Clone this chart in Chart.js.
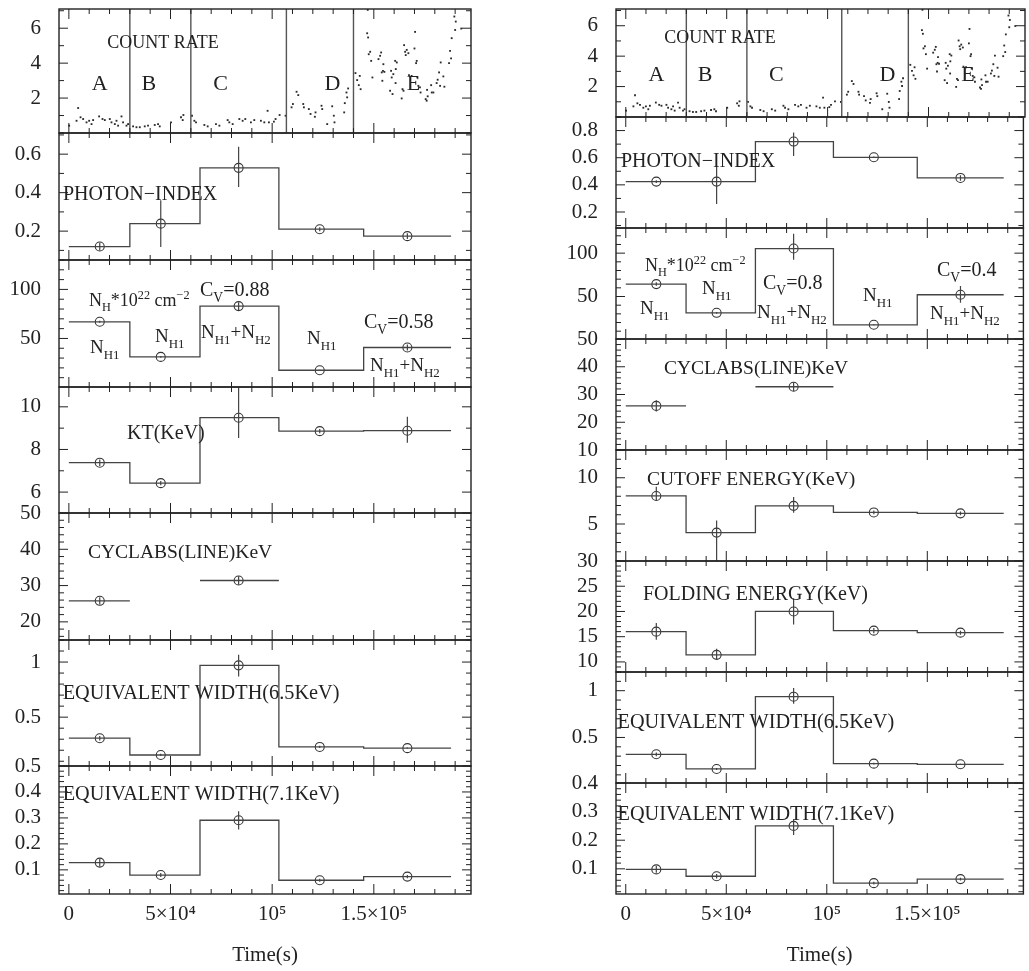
<!DOCTYPE html>
<html lang="en">
<head>
  <meta charset="UTF-8">
  <title>Count rate and spectral parameters</title>
  <script src="https://cdn.jsdelivr.net/npm/chart.js"></script>
  <style>
    body { margin: 0; background: #fff; overflow: hidden; }
    #wrap { position: relative; width: 1029px; height: 971px; }
    #wrap canvas { position: absolute; }
  </style>
</head>
<body>
  <div id="wrap"></div>

  <script>
    // time bins of the spectral fits (s)
    const binEdges = [0, 30000, 64500, 103300, 145000, 188000];
    const binTimes = [15200, 45200, 83500, 123400, 166500];

    // count-rate segments A..E
    const segmentEdges = [30000, 60000, 107000, 140000];
    const segmentNames = ["A", "B", "C", "D", "E"];
    const segmentNameTimes = [15200, 39300, 74600, 129700, 169500];

    const xTicks = [0, 50000, 100000, 150000];
    const xTickLabels = ["0", "5×10⁴", "10⁵", "1.5×10⁵"];

    // light curve
    const countTime = [150, 3780, 4570, 5750, 7030, 8690, 9980, 11150, 11940, 14890, 16550, 17680, 20140, 20970, 22600, 23430, 24220, 25890, 26670, 28340, 29130,
      31590, 33250, 34880, 37330, 38950, 42240, 43870, 44700, 50250, 55160, 56000, 56340,
      60570, 61730, 62550, 66650, 68280, 72360, 74030, 78100, 78920, 80560, 83850, 85480, 86780, 89550, 91200, 94460, 96130, 97750, 98400, 100850, 101680, 103650, 106590,
      109540, 110200, 112000, 112830, 115280, 115600, 118040, 118870, 121000, 121330, 124270, 124620, 127070, 129530, 130320, 130650, 135420, 135720, 136550, 136890, 137380,
      140970, 141800, 142600, 143080, 143500, 146720, 147000, 147200, 147500, 148200, 148700, 149300, 152300, 153100, 153600, 153900, 154200, 154500, 154700, 155200,
      158000, 158500, 158800, 159200, 159600, 160500, 160700, 160800, 161300, 163700, 164100, 164600, 164900, 165400, 165700, 166200, 167000, 167300, 168600,
      170000, 170300, 170800, 171100, 171400, 171900, 172700, 173000, 175500, 176000, 176200, 176500, 178200, 178500, 179300, 180900, 181400, 182100, 182600, 182900,
      184200, 184700, 187000, 187500, 188000, 188300, 189600, 190000, 190300, 193000];
    const countRate = [0.42, 0.70, 1.43, 0.90, 0.80, 0.61, 0.70, 0.51, 0.74, 0.95, 0.80, 0.74, 0.80, 0.61, 0.51, 0.70, 0.42, 0.95, 0.61, 0.42, 0.51,
      0.38, 0.33, 0.33, 0.38, 0.42, 0.46, 0.51, 0.38, 0.61, 0.90, 0.74, 1.03,
      0.99, 0.70, 0.61, 0.46, 0.38, 0.51, 0.42, 0.74, 0.61, 0.51, 0.80, 0.70, 0.80, 0.61, 0.74, 0.70, 0.61, 1.27, 0.61, 0.65, 0.80, 1.03, 0.99,
      1.47, 1.66, 2.36, 2.17, 1.66, 1.47, 1.37, 1.09, 0.93, 1.18, 1.56, 1.37, 0.51, 1.53, 0.99, 0.61, 1.18, 1.71, 2.32, 2.04, 2.55,
      3.43, 3.03, 2.74, 3.27, 2.51, 5.71, 7.05, 5.47, 4.51, 4.65, 4.13, 3.18, 4.23, 4.42, 4.61, 3.47, 2.99, 3.56, 3.94, 3.50,
      2.42, 3.56, 3.18, 2.23, 3.37, 4.13, 2.86, 3.66, 4.04, 1.98, 2.51, 2.42, 5.03, 4.65, 4.46, 4.76, 4.57, 3.31, 3.27,
      4.84, 5.79, 4.00, 4.13, 3.18, 2.70, 2.61, 2.32, 1.94, 1.85, 2.47, 2.10, 2.74, 2.32, 2.32, 2.86, 3.05, 3.47, 2.70, 4.04,
      3.24, 2.65, 4.00, 4.70, 4.27, 5.43, 6.67, 5.90, 6.38, 5.98];

    // left column fits
    const leftPhoton = [0.12, 0.239, 0.529, 0.21, 0.174];
    const leftPhotonLo = [0.02, 0.122, 0.099, 0.01, 0.015];
    const leftPhotonHi = [0.02, 0.121, 0.109, 0.01, 0.015];
    const leftNH = [67, 31.2, 83, 17.6, 40.8];
    const leftNHLo = [1, 1, 4, 0.5, 3];
    const leftNHHi = [1, 1, 4, 0.5, 3];
    const leftKT = [7.38, 6.42, 9.49, 8.86, 8.88];
    const leftKTLo = [0.15, 0.1, 0.95, 0.1, 0.56];
    const leftKTHi = [0.15, 0.1, 1.6, 0.1, 0.65];
    const leftCyc = [25.8, null, 31.4, null, null];
    const leftCycErr = [1.0, 0, 1.2, 0, 0];
    const leftEW65 = [0.309, 0.157, 0.97, 0.23, 0.219];
    const leftEW65Lo = [0.02, 0.01, 0.1, 0.01, 0.005];
    const leftEW65Hi = [0.02, 0.01, 0.096, 0.01, 0.005];
    const leftEW71 = [0.128, 0.08, 0.291, 0.06, 0.074];
    const leftEW71Lo = [0.015, 0.008, 0.036, 0.006, 0.006];
    const leftEW71Hi = [0.015, 0.008, 0.035, 0.006, 0.006];

    // right column fits
    const rightPhoton = [0.424, 0.424, 0.719, 0.603, 0.451];
    const rightPhotonLo = [0.01, 0.165, 0.107, 0.005, 0.02];
    const rightPhotonHi = [0.01, 0.116, 0.066, 0.005, 0.02];
    const rightNH = [64.3, 31.2, 105.3, 17.4, 52];
    const rightNHLo = [2, 1, 12.8, 0.5, 9.2];
    const rightNHHi = [2, 1, 17.2, 0.5, 10];
    const rightCyc = [25.9, null, 32.8, null, null];
    const rightCycErr = [2, 0, 1.5, 0, 0];
    const rightCutoff = [8.03, 4.07, 6.96, 6.25, 6.15];
    const rightCutoffLo = [0.5, 3.1, 0.75, 0.2, 0.2];
    const rightCutoffHi = [1.0, 1.3, 0.95, 0.2, 0.2];
    const rightFold = [16, 11.4, 20, 16.2, 15.8];
    const rightFoldLo = [1.6, 1.0, 2.6, 0.5, 0.4];
    const rightFoldHi = [1.7, 1.2, 2.6, 0.5, 0.4];
    const rightEW65 = [0.32, 0.163, 0.936, 0.22, 0.213];
    const rightEW65Lo = [0.02, 0.01, 0.076, 0.01, 0.005];
    const rightEW65Hi = [0.02, 0.01, 0.094, 0.01, 0.005];
    const rightEW71 = [0.098, 0.074, 0.25, 0.05, 0.064];
    const rightEW71Lo = [0.012, 0.008, 0.032, 0.005, 0.005];
    const rightEW71Hi = [0.012, 0.008, 0.023, 0.005, 0.005];

    const FONT = "'Liberation Serif', 'Times New Roman', serif";
    const INK = "#222";
    const GREY = "#444";

    const nhNotesLeft = [
      { dx: 30, dy: 40, text: "N_{H}*10^{22} cm^{−2}", size: 18 },
      { dx: 141, dy: 29, text: "C_{V}=0.88", size: 20 },
      { dx: 31, dy: 87, text: "N_{H1}", size: 19 },
      { dx: 96, dy: 76, text: "N_{H1}", size: 19 },
      { dx: 142, dy: 72, text: "N_{H1}+N_{H2}", size: 19 },
      { dx: 248, dy: 78, text: "N_{H1}", size: 19 },
      { dx: 305, dy: 61, text: "C_{V}=0.58", size: 20 },
      { dx: 311, dy: 105, text: "N_{H1}+N_{H2}", size: 19 }
    ];
    const nhNotesRight = [
      { dx: 29, dy: 37, text: "N_{H}*10^{22} cm^{−2}", size: 18 },
      { dx: 24, dy: 80, text: "N_{H1}", size: 19 },
      { dx: 86, dy: 60, text: "N_{H1}", size: 19 },
      { dx: 147, dy: 54, text: "C_{V}=0.8", size: 20 },
      { dx: 141, dy: 84, text: "N_{H1}+N_{H2}", size: 19 },
      { dx: 247, dy: 67, text: "N_{H1}", size: 19 },
      { dx: 321, dy: 41, text: "C_{V}=0.4", size: 20 },
      { dx: 314, dy: 85, text: "N_{H1}+N_{H2}", size: 19 }
    ];

    const columns = [
      {
        left: 0, width: 480, frameLeft: 59, frameRight: 471,
        bounds: [9, 133, 260, 387, 513, 640, 766, 894],
        panels: [
          { kind: "count", min: 0, max: 7.1, major: [2, 4, 6], minor: 1,
            notes: [{ dx: 104, dy: 33, text: "COUNT RATE", size: 18, align: "center" }] },
          { min: 0.05, max: 0.71, major: [0.2, 0.4, 0.6], minor: 0.1,
            values: leftPhoton, lo: leftPhotonLo, hi: leftPhotonHi,
            notes: [{ dx: 4, dy: 60, text: "PHOTON−INDEX", size: 20 }] },
          { min: 0.5, max: 130, major: [50, 100], minor: 10,
            values: leftNH, lo: leftNHLo, hi: leftNHHi, notes: nhNotesLeft },
          { min: 5.02, max: 10.93, major: [6, 8, 10], minor: 1,
            values: leftKT, lo: leftKTLo, hi: leftKTHi,
            notes: [{ dx: 68, dy: 45, text: "KT(KeV)", size: 20 }] },
          { min: 15, max: 50, major: [20, 30, 40, 50], minor: 2,
            values: leftCyc, lo: leftCycErr, hi: leftCycErr,
            notes: [{ dx: 29, dy: 39, text: "CYCLABS(LINE)KeV", size: 19.5 }] },
          { min: 0.057, max: 1.2, major: [0.5, 1], minor: 0.1,
            values: leftEW65, lo: leftEW65Lo, hi: leftEW65Hi,
            notes: [{ dx: 3.7, dy: 52, text: "EQUIVALENT WIDTH(6.5KeV)", size: 20.3 }] },
          { min: 0.007, max: 0.5, major: [0.1, 0.2, 0.3, 0.4, 0.5], minor: 0.02,
            values: leftEW71, lo: leftEW71Lo, hi: leftEW71Hi,
            notes: [{ dx: 3.7, dy: 27, text: "EQUIVALENT WIDTH(7.1KeV)", size: 20.3 }] }
        ]
      },
      {
        left: 540, width: 489, frameLeft: 616, frameRight: 1028,
        bounds: [9, 117, 228, 339, 450, 561, 672, 783, 894],
        panels: [
          { kind: "count", min: 0, max: 7.1, major: [2, 4, 6], minor: 1,
            notes: [{ dx: 104, dy: 28, text: "COUNT RATE", size: 18, align: "center" }] },
          { min: 0.082, max: 0.9, major: [0.2, 0.4, 0.6, 0.8], minor: 0.1,
            values: rightPhoton, lo: rightPhotonLo, hi: rightPhotonHi,
            notes: [{ dx: 5, dy: 43, text: "PHOTON−INDEX", size: 20 }] },
          { min: 1, max: 129, major: [50, 100], minor: 10,
            values: rightNH, lo: rightNHLo, hi: rightNHHi, notes: nhNotesRight },
          { min: 10, max: 50, major: [10, 20, 30, 40, 50], minor: 2,
            values: rightCyc, lo: rightCycErr, hi: rightCycErr,
            notes: [{ dx: 48, dy: 29, text: "CYCLABS(LINE)KeV", size: 19.5 }] },
          { min: 1, max: 13, major: [5, 10], minor: 1,
            values: rightCutoff, lo: rightCutoffLo, hi: rightCutoffHi,
            notes: [{ dx: 31, dy: 29, text: "CUTOFF ENERGY(KeV)", size: 19.5 }] },
          { min: 8, max: 30, major: [10, 15, 20, 25, 30], minor: 1,
            values: rightFold, lo: rightFoldLo, hi: rightFoldHi,
            notes: [{ dx: 27, dy: 32, text: "FOLDING ENERGY(KeV)", size: 20 }] },
          { min: 0.013, max: 1.2, major: [0.5, 1], minor: 0.1,
            values: rightEW65, lo: rightEW65Lo, hi: rightEW65Hi,
            notes: [{ dx: 1.5, dy: 49, text: "EQUIVALENT WIDTH(6.5KeV)", size: 20.3 }] },
          { min: 0.012, max: 0.4, major: [0.1, 0.2, 0.3, 0.4], minor: 0.02,
            values: rightEW71, lo: rightEW71Lo, hi: rightEW71Hi,
            notes: [{ dx: 1.5, dy: 30, text: "EQUIVALENT WIDTH(7.1KeV)", size: 20.3 }] }
        ]
      }
    ];

    // text with _{sub} and ^{sup}
    function drawRich(ctx, str, x, y, size, align) {
      const runs = [];
      let buf = "";
      for (let i = 0; i < str.length; i++) {
        const c = str[i];
        if ((c === "_" || c === "^") && str[i + 1] === "{") {
          if (buf) runs.push({ t: buf, m: 0 });
          buf = "";
          const end = str.indexOf("}", i);
          runs.push({ t: str.slice(i + 2, end), m: c === "_" ? 1 : 2 });
          i = end;
        } else {
          buf += c;
        }
      }
      if (buf) runs.push({ t: buf, m: 0 });

      const small = size * 0.68;
      let total = 0;
      runs.forEach(r => {
        ctx.font = (r.m ? small : size) + "px " + FONT;
        r.w = ctx.measureText(r.t).width;
        total += r.w;
      });
      let cx = align === "center" ? x - total / 2 : x;
      const base = y + size * 0.33;
      ctx.textAlign = "left";
      ctx.textBaseline = "alphabetic";
      ctx.fillStyle = INK;
      runs.forEach(r => {
        ctx.font = (r.m ? small : size) + "px " + FONT;
        const off = r.m === 1 ? size * 0.3 : r.m === 2 ? -size * 0.38 : 0;
        ctx.fillText(r.t, cx, base + off);
        cx += r.w;
      });
    }

    function line(ctx, x1, y1, x2, y2) {
      ctx.moveTo(x1, y1);
      ctx.lineTo(x2, y2);
    }

    const decor = {
      id: "decor",
      afterDatasetsDraw(chart, args, opts) {
        const p = opts.panel;
        const { ctx, chartArea: a, scales: { x, y } } = chart;
        ctx.save();

        // error bars
        ctx.save();
        ctx.beginPath();
        ctx.rect(a.left, a.top, a.width, a.height);
        ctx.clip();
        if (p.values) {
          ctx.strokeStyle = GREY;
          ctx.lineWidth = 1.2;
          ctx.beginPath();
          p.values.forEach((v, i) => {
            if (v == null) return;
            const px = x.getPixelForValue(binTimes[i]);
            line(ctx, px, y.getPixelForValue(v - p.lo[i]), px, y.getPixelForValue(v + p.hi[i]));
          });
          ctx.stroke();
        }
        if (p.kind === "count") {
          ctx.strokeStyle = "#555";
          ctx.lineWidth = 1.4;
          ctx.beginPath();
          segmentEdges.forEach(t => {
            const px = x.getPixelForValue(t);
            line(ctx, px, a.top, px, a.bottom);
          });
          ctx.stroke();
        }
        ctx.restore();

        if (p.kind === "count") {
          segmentNames.forEach((n, i) => {
            drawRich(ctx, n, x.getPixelForValue(segmentNameTimes[i]), y.getPixelForValue(2.85), 22, "center");
          });
        }
        (p.notes || []).forEach(n => {
          drawRich(ctx, n.text, a.left + n.dx, a.top + n.dy, n.size, n.align);
        });

        // inward ticks
        ctx.strokeStyle = INK;
        ctx.lineWidth = 1;
        ctx.beginPath();
        for (let t = 0; t <= 190000; t += 10000) {
          const px = x.getPixelForValue(t);
          const len = t % 50000 === 0 ? 10 : 5;
          line(ctx, px, a.top, px, a.top + len);
          line(ctx, px, a.bottom, px, a.bottom - len);
        }
        const n0 = Math.ceil(p.min / p.minor - 1e-6);
        const n1 = Math.floor(p.max / p.minor + 1e-6);
        for (let n = n0; n <= n1; n++) {
          const v = n * p.minor;
          const py = y.getPixelForValue(v);
          const isMajor = p.major.some(m => Math.abs(m - v) < p.minor * 0.01);
          const len = isMajor ? 9 : 5;
          line(ctx, a.left, py, a.left + len, py);
          line(ctx, a.right, py, a.right - len, py);
        }
        ctx.stroke();

        // frame
        ctx.lineWidth = 1.4;
        ctx.strokeRect(a.left, a.top, a.width, a.height);
        ctx.restore();
      }
    };

    function stepData(values) {
      const pts = [];
      values.forEach((v, i) => {
        if (v == null) {
          pts.push({ x: binEdges[i], y: null });
          return;
        }
        pts.push({ x: binEdges[i], y: v }, { x: binEdges[i + 1], y: v });
      });
      return pts;
    }

    const wrap = document.getElementById("wrap");

    columns.forEach(col => {
      col.panels.forEach((p, i) => {
        const last = i === col.panels.length - 1;
        const top = col.bounds[i];
        const bottom = col.bounds[i + 1];
        const padTop = 14;
        const padBottom = last ? 0 : 14;
        const axisH = last ? 77 : 0;

        const canvas = document.createElement("canvas");
        canvas.width = col.width;
        canvas.height = padTop + (bottom - top) + padBottom + axisH;
        canvas.style.left = col.left + "px";
        canvas.style.top = (top - padTop) + "px";
        wrap.appendChild(canvas);

        const datasets = [];
        if (p.kind === "count") {
          datasets.push({
            data: countTime.map((t, k) => ({ x: t, y: countRate[k] })),
            pointStyle: "rect",
            pointRadius: 1.3,
            pointBackgroundColor: "#2a2a2a",
            pointBorderWidth: 0
          });
        } else {
          datasets.push({
            data: stepData(p.values),
            showLine: true,
            spanGaps: false,
            borderColor: GREY,
            borderWidth: 1.3,
            pointRadius: 0
          });
          datasets.push({
            data: binTimes.map((t, k) => ({ x: t, y: p.values[k] })).filter(d => d.y != null),
            pointStyle: "circle",
            pointRadius: 4.5,
            pointBorderColor: "#333",
            pointBorderWidth: 1.1,
            pointBackgroundColor: "rgba(0,0,0,0)"
          });
        }

        new Chart(canvas.getContext("2d"), {
          type: "scatter",
          data: { datasets: datasets },
          options: {
            responsive: false,
            animation: false,
            devicePixelRatio: 1,
            events: [],
            layout: { padding: { top: padTop, bottom: padBottom, left: 0, right: col.left + col.width - col.frameRight } },
            plugins: {
              legend: { display: false },
              tooltip: { enabled: false },
              decor: { panel: p }
            },
            scales: {
              x: {
                type: "linear",
                min: -4850,
                max: 197800,
                display: last,
                afterBuildTicks: s => { s.ticks = xTicks.map(v => ({ value: v })); },
                afterFit: s => {
                  s.height = axisH;
                  s.paddingLeft = 0;
                  s.paddingRight = 0;
                },
                grid: { display: false, drawTicks: false },
                border: { display: false },
                ticks: {
                  autoSkip: false,
                  maxRotation: 0,
                  padding: 8,
                  color: INK,
                  font: { family: FONT, size: 21 },
                  callback: (v, k) => xTickLabels[k]
                },
                title: {
                  display: true,
                  text: "Time(s)",
                  color: INK,
                  font: { family: FONT, size: 21 },
                  padding: { top: 0, bottom: 3 }
                }
              },
              y: {
                type: "linear",
                min: p.min,
                max: p.max,
                afterBuildTicks: s => { s.ticks = p.major.map(v => ({ value: v })); },
                afterFit: s => {
                  s.width = col.frameLeft - col.left;
                  s.paddingTop = 0;
                  s.paddingBottom = 0;
                },
                grid: { display: false, drawTicks: false },
                border: { display: false },
                ticks: {
                  autoSkip: false,
                  padding: 18,
                  color: INK,
                  font: { family: FONT, size: 21 },
                  callback: v => String(v)
                }
              }
            }
          },
          plugins: [decor]
        });
      });
    });
  </script>
</body>
</html>
